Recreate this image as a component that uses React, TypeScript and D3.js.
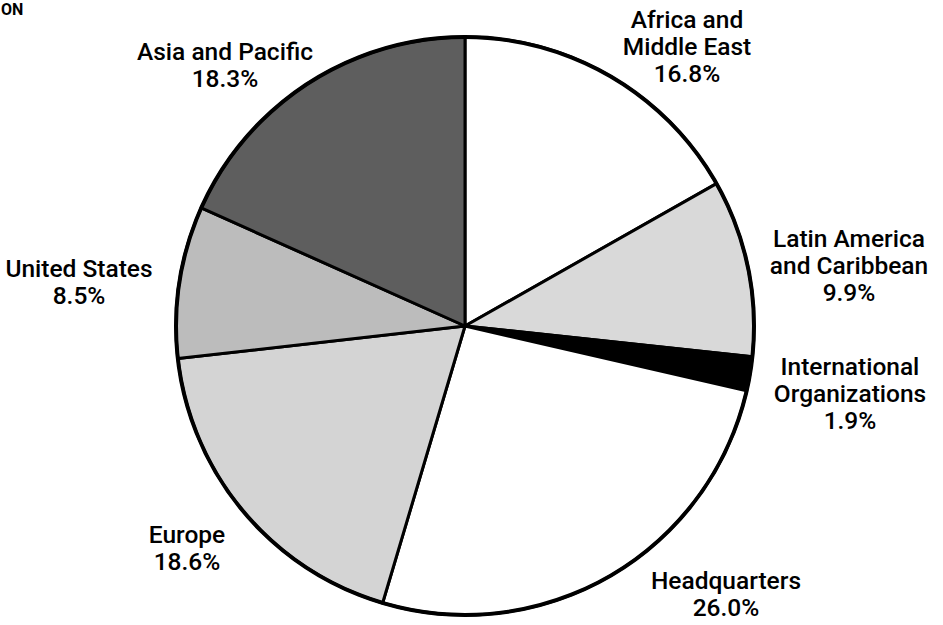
import { useEffect, useRef } from 'react';
import * as d3 from 'd3';

// Shares by region, clockwise from 12 o'clock
const regions = [
  'Africa and\nMiddle East',
  'Latin America\nand Caribbean',
  'International\nOrganizations',
  'Headquarters',
  'Europe',
  'United States',
  'Asia and Pacific',
];
const shares = [16.8, 9.9, 1.9, 26.0, 18.6, 8.5, 18.3];
const sliceFills = ['#ffffff', '#d9d9d9', '#000000', '#ffffff', '#d4d4d4', '#bcbcbc', '#5e5e5e'];

// label block anchor (center x, first baseline), relative to the pie center
const labelAnchors: [number, number][] = [
  [222, -298],
  [384, -79],
  [385, 49],
  [261, 263],
  [-278, 217],
  [-386, -49],
  [-240, -266],
];

export default function App() {
  const svgRef = useRef<SVGSVGElement>(null);

  useEffect(() => {
    if (!svgRef.current) return;
    const width = 943;
    const height = 625;
    const cx = 465;
    const cy = 326;
    const radius = 289;

    const root = d3.select(svgRef.current);
    root.selectAll('*').remove();
    root.attr('width', width).attr('height', height);

    root.append('rect').attr('width', width).attr('height', height).attr('fill', '#ffffff');

    // title fragment at the top left
    root
      .append('text')
      .attr('x', 1)
      .attr('y', 15)
      .attr('font-family', 'Roboto, Liberation Sans, Arial, sans-serif')
      .attr('font-weight', 'bold')
      .attr('font-size', 16)
      .attr('fill', '#000')
      .text('ON');

    const g = root.append('g').attr('transform', `translate(${cx},${cy})`);

    const pie = d3
      .pie<number>()
      .sort(null)
      .value((d) => d);
    const arcs = pie(shares);
    const arc = d3.arc<d3.PieArcDatum<number>>().innerRadius(0).outerRadius(radius);

    g.selectAll('path.slice')
      .data(arcs)
      .enter()
      .append('path')
      .attr('class', 'slice')
      .attr('d', arc)
      .attr('fill', (d, i) => sliceFills[i])
      .attr('stroke', '#000')
      .attr('stroke-width', 3)
      .attr('stroke-linejoin', 'round');

    // heavier outer rim
    g.append('circle')
      .attr('r', radius)
      .attr('fill', 'none')
      .attr('stroke', '#000')
      .attr('stroke-width', 4);

    // labels
    const fontSize = 24.5;
    const lineH = 27;
    regions.forEach((name, i) => {
      const [lx, ly] = labelAnchors[i];
      const lines = [...name.split('\n'), `${shares[i].toFixed(1)}%`];
      const t = g
        .append('text')
        .attr('text-anchor', 'middle')
        .attr('font-family', 'Roboto, Liberation Sans, Arial, sans-serif')
        .attr('font-weight', 500)
        .attr('font-size', fontSize)
        .attr('fill', '#000');
      lines.forEach((line, j) => {
        t.append('tspan')
          .attr('x', lx)
          .attr('y', ly + j * lineH)
          .text(line);
      });
    });
  }, []);

  return (
    <div style={{ position: 'absolute', left: 0, top: 0 }}>
      <svg ref={svgRef} style={{ display: 'block' }} />
    </div>
  );
}
